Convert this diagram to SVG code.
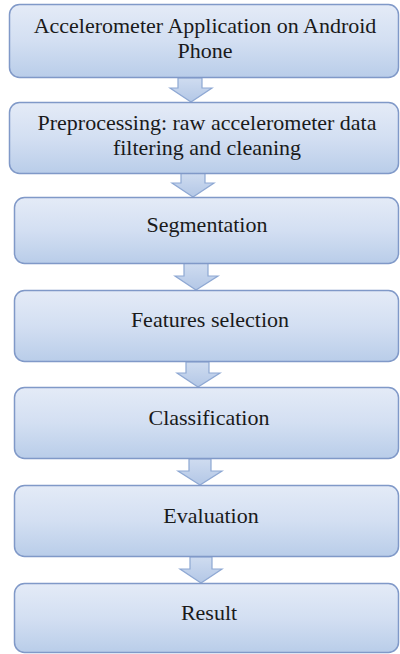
<svg xmlns="http://www.w3.org/2000/svg" width="400" height="654" viewBox="0 0 400 654">
<defs>
<linearGradient id="gb" x1="0" y1="0" x2="0" y2="1">
<stop offset="0" stop-color="#e4ebf7"/>
<stop offset="0.5" stop-color="#d3dff2"/>
<stop offset="1" stop-color="#b9cde9"/>
</linearGradient>
<linearGradient id="ga" x1="0" y1="0" x2="0" y2="1">
<stop offset="0" stop-color="#cfdcf0"/>
<stop offset="1" stop-color="#b3c7e6"/>
</linearGradient>
</defs>
<style>
.box{fill:url(#gb);stroke:#8099c8;stroke-width:1.5}
.arr{fill:url(#ga);stroke:#8ea8d3;stroke-width:1.2}
text{font-family:"Liberation Serif","Times New Roman",serif;font-size:22px;fill:#1a1a1a;text-anchor:middle}
</style>
<rect width="400" height="654" fill="#ffffff"/>
<g id="connectors">
<path class="arr" d="M178,78 H202 V88 H212 L191,102 L170,88 H178 Z"/>
<path class="arr" d="M181,173 H205 V183 H214 L193,197 L172,183 H181 Z"/>
<path class="arr" d="M184,263 H208 V276 H218 L196,290 L175,276 H184 Z"/>
<path class="arr" d="M186,362 H209 V373 H220 L198,387 L177,373 H186 Z"/>
<path class="arr" d="M189,459 H211 V471 H222 L200,485 L178,471 H189 Z"/>
<path class="arr" d="M190,557 H212 V569 H222 L201,583 L180,569 H190 Z"/>
</g>
<g id="n1"><rect class="box" x="9.5" y="4.5" width="389" height="73" rx="10"/>
<text x="205" y="33">Accelerometer Application on Android</text>
<text x="205" y="58">Phone</text></g>
<g id="n2"><rect class="box" x="9.5" y="102.5" width="389" height="71" rx="10"/>
<text x="207" y="130">Preprocessing: raw accelerometer data</text>
<text x="207" y="155">filtering and cleaning</text></g>
<g id="n3"><rect class="box" x="14.5" y="197.5" width="384" height="66" rx="10"/>
<text x="207" y="232">Segmentation</text></g>
<g id="n4"><rect class="box" x="14.5" y="290.5" width="384" height="71" rx="10"/>
<text x="210" y="327">Features selection</text></g>
<g id="n5"><rect class="box" x="14.5" y="387.5" width="384" height="71" rx="10"/>
<text x="209" y="425">Classification</text></g>
<g id="n6"><rect class="box" x="14.5" y="485.5" width="384" height="71" rx="10"/>
<text x="211" y="523">Evaluation</text></g>
<g id="n7"><rect class="box" x="14.5" y="583.5" width="384" height="69" rx="10"/>
<text x="209" y="620">Result</text></g>
</svg>
